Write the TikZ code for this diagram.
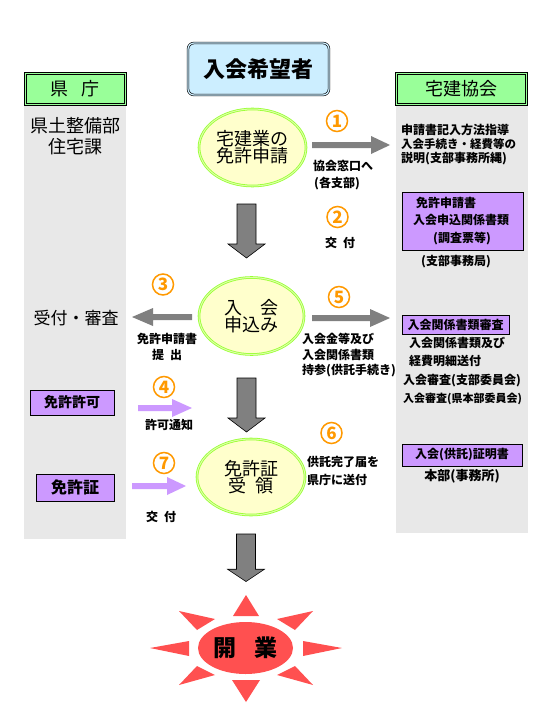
\documentclass[tikz,border=0pt]{standalone}
\usepackage{fontspec}
\setmainfont{Noto Sans CJK JP}
\usetikzlibrary{shapes.geometric}
\definecolor{colgray}{HTML}{E8E8E8}
\definecolor{hdrgreen}{HTML}{99FF99}
\definecolor{boxpurple}{HTML}{CC99FF}
\definecolor{boxblue}{HTML}{CCEEFF}
\definecolor{elyellow}{HTML}{FFFFCC}
\definecolor{elgreen}{HTML}{99FF33}
\definecolor{elpale}{HTML}{DDFFAA}
\definecolor{arrgray}{HTML}{808080}
\definecolor{numorange}{HTML}{FF9900}
\definecolor{sunred}{HTML}{FF5050}
\newcommand\jfs[1]{\fontsize{#1}{#1}\selectfont}
\tikzset{
  hdr/.style={draw=black, double=hdrgreen, line width=1pt, double distance=1pt,
    fill=hdrgreen, minimum width=100, minimum height=31, inner sep=0pt, font=\jfs{18}},
  pbox/.style={draw=black, line width=0.8pt, fill=boxpurple, inner sep=0pt, font=\jfs{12}\bfseries},
  flowel/.style={ellipse, draw=elgreen, double=elpale, line width=0.8pt, double distance=1pt,
    fill=elyellow, inner sep=0pt, align=center, font=\jfs{18}},
  numc/.style={circle, draw=numorange, line width=1.5pt, minimum size=21, inner sep=0pt,
    text=numorange, font=\jfs{17}\bfseries},
  lbl/.style={inner sep=0pt, font=\jfs{12}\bfseries},
  lbll/.style={lbl, anchor=west},
  pics/downarr/.style={code={
    \filldraw[fill=arrgray, draw=black, line width=0.6pt]
      (-9.5,0) -- (9.5,0) -- (9.5,40) -- (18.5,40) -- (0,54) -- (-18.5,40) -- (-9.5,40) -- cycle;}},
  pics/harrow/.style n args={3}{code={
    \fill[#3] (0,-3) -- ({#1-#2},-3) -- ({#1-#2},-9) -- (#1,0) -- ({#1-#2},9) -- ({#1-#2},3) -- (0,3) -- cycle;}},
}
\begin{document}
\begin{tikzpicture}[x=1pt,y=-1pt]
\useasboundingbox (0,0) rectangle (540,720);
\fill[white] (0,0) rectangle (540,720);

% side columns
\fill[colgray] (24,105) rectangle (126,539);
\fill[colgray] (396,105) rectangle (528,533);
\node[hdr] (kencho) at (75,88.5) {県\hspace{0.7em}庁};
\node[hdr, minimum width=130] (kyokai) at (461.5,88.5) {宅建協会};

% left column texts
\node[inner sep=0pt, font=\jfs{18}] (ken1) at (75,126) {県土整備部};
\node[inner sep=0pt, font=\jfs{18}] (ken2) at (75,147) {住宅課};
\node[inner sep=0pt, font=\jfs{17}] (uketsuke) at (76,318) {受付・審査};
\node[pbox, minimum width=84, minimum height=25, font=\jfs{14}\bfseries] (kyoka) at (72,402.5) {免許許可};
\node[pbox, minimum width=78, minimum height=27, font=\jfs{16}\bfseries] (menkyosho) at (75,487.5) {免許証};

% applicant
\node[draw=black, double=boxblue, line width=0.6pt, double distance=1.2pt, rounded corners=6pt,
  fill=boxblue, minimum width=141, minimum height=52, inner sep=0pt, font=\jfs{22}\bfseries]
  (kibou) at (258.5,69) {入会希望者};

% ellipses
\node[flowel, minimum width=107, minimum height=77] (e1) at (252.5,147.5)
  {宅建業の\\[-1pt]免許申請};
\node[flowel, minimum width=105, minimum height=77] (e2) at (251.5,316)
  {入\hspace{1em}会\\[-1pt]申込み};
\node[flowel, minimum width=108, minimum height=76] (e3) at (251,477)
  {免許証\\[-1pt]受\hspace{0.5em}領};

% down arrows
\pic at (246.5,204) {downarr};
\pic at (246.5,378) {downarr};
\pic[yscale=0.88] at (246,534) {downarr};

% horizontal arrows
\pic at (312,145) {harrow={78}{19}{arrgray}};
\pic at (312,318) {harrow={78}{20}{arrgray}};
\pic[xscale=-1] at (192,317) {harrow={60}{21}{arrgray}};
\pic at (138,408) {harrow={54}{20}{boxpurple}};
\pic at (132,486) {harrow={54}{19}{boxpurple}};

% circled numbers
\node[numc] (n1) at (337,121) {1};
\node[numc] (n2) at (337.5,217) {2};
\node[numc] (n3) at (163,284.5) {3};
\node[numc] (n4) at (164,387) {4};
\node[numc] (n5) at (339,297) {5};
\node[numc] (n6) at (331.5,433) {6};
\node[numc] (n7) at (164,463) {7};

% arrow labels
\node[lbl] (l1a) at (343,166) {協会窓口へ};
\node[lbl] (l1b) at (337,184) {(各支部)};
\node[lbl] (l2) at (340,243) {交\hspace{0.5em}付};
\node[lbl] (l3a) at (167,339) {免許申請書};
\node[lbl] (l3b) at (167,355) {提\hspace{0.5em}出};
\node[lbll] (l5a) at (302,339) {入会金等及び};
\node[lbll] (l5b) at (302,355) {入会関係書類};
\node[lbll] (l5c) at (302,371) {持参(供託手続き)};
\node[lbl] (l4) at (169,425) {許可通知};
\node[lbll] (l6a) at (307,462) {供託完了届を};
\node[lbll] (l6b) at (307,480) {県庁に送付};
\node[lbl] (l7) at (161,517) {交\hspace{0.5em}付};

% right column
\node[lbll] (r1) at (401,130) {申請書記入方法指導};
\node[lbll, font=\jfs{11.5}\bfseries] (r2) at (401,144.5) {入会手続き・経費等の};
\node[lbll] (r3) at (401,159) {説明(支部事務所縄)};
\node[pbox, minimum width=121, minimum height=58] (pb1) at (462.5,221) {};
\node[lbll] (pb1a) at (416,203) {免許申請書};
\node[lbll] (pb1b) at (413,220) {入会申込関係書類};
\node[lbl] (pb1c) at (462,239) {(調査票等)};
\node[lbl] (r4) at (456,262) {(支部事務局)};
\node[pbox, minimum width=107, minimum height=19] (pb2) at (455.5,324.5) {入会関係書類審査};
\node[lbll] (r5) at (409,343) {入会関係書類及び};
\node[lbll] (r6) at (409,361) {経費明細送付};
\node[lbll] (r7) at (403,381) {入会審査(支部委員会)};
\node[lbll, font=\jfs{11}\bfseries] (r8) at (403,399) {入会審査(県本部委員会)};
\node[pbox, minimum width=120, minimum height=22] (pb3) at (462,455) {入会(供託)証明書};
\node[lbl, font=\jfs{13}\bfseries] (r9) at (462,476) {本部(事務所)};

% sun
\fill[sunred] (246,595) -- (259,616) -- (233,616) -- cycle;
\fill[sunred] (246,702) -- (260,680) -- (232,680) -- cycle;
\fill[sunred] (150,648) -- (189,641) -- (189,656) -- cycle;
\fill[sunred] (342,648) -- (303,641) -- (303,656) -- cycle;
\fill[sunred] (179,611) -- (215,619) -- (197,630) -- cycle;
\fill[sunred] (313,611) -- (277,619) -- (295,630) -- cycle;
\fill[sunred] (179,685) -- (215,675) -- (197,666) -- cycle;
\fill[sunred] (313,685) -- (277,675) -- (295,666) -- cycle;
\node[ellipse, fill=sunred, minimum width=95, minimum height=52, inner sep=0pt,
  font=\jfs{23}\bfseries] (kaigyo) at (245.5,648) {開\hspace{0.8em}業};
\end{tikzpicture}
\end{document}
